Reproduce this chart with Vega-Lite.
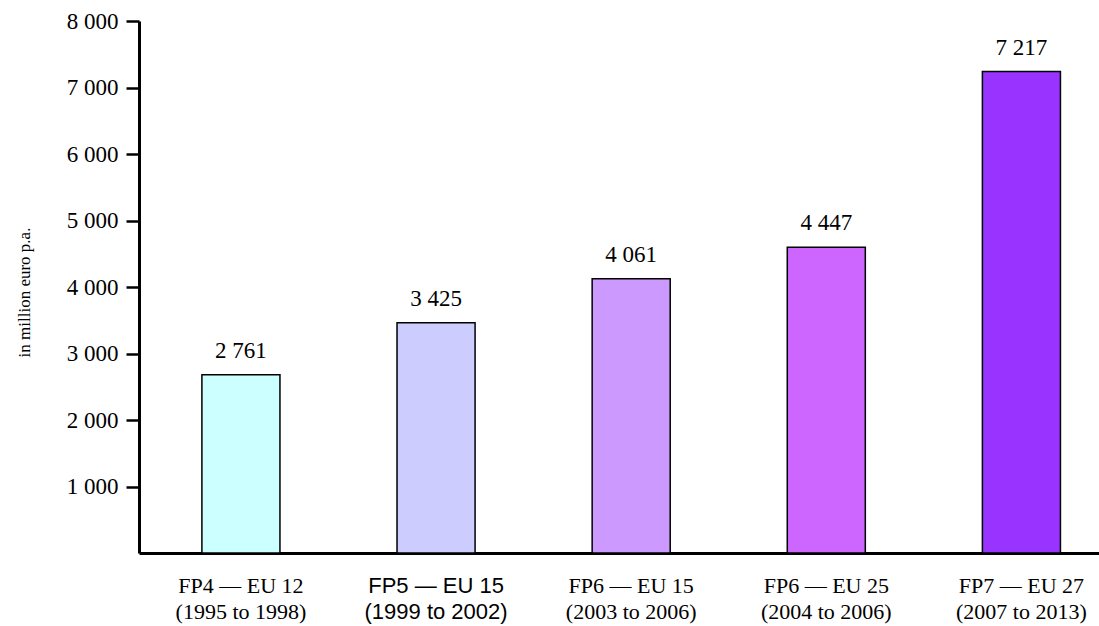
{
  "$schema": "https://vega.github.io/schema/vega-lite/v6.json",
  "autosize": "none",
  "width": 960,
  "height": 532,
  "padding": {"left": 139, "top": 21, "right": 0, "bottom": 73},
  "background": "white",
  "config": {"view": {"stroke": null}},
  "data": {"values": [
    {"programme": "FP4 — EU 12|(1995 to 1998)", "value": 2682, "label": "2 761", "color": "#CCFFFF"},
    {"programme": "FP5 — EU 15|(1999 to 2002)", "value": 3462, "label": "3 425", "color": "#CCCCFF"},
    {"programme": "FP6 — EU 15|(2003 to 2006)", "value": 4123, "label": "4 061", "color": "#CC99FF"},
    {"programme": "FP6 — EU 25|(2004 to 2006)", "value": 4598, "label": "4 447", "color": "#CC66FF"},
    {"programme": "FP7 — EU 27|(2007 to 2013)", "value": 7240, "label": "7 217", "color": "#9933FF"}
  ]},
  "encoding": {
    "x": {
      "field": "programme", "type": "nominal", "sort": null,
      "scale": {"paddingInner": 0.6, "paddingOuter": 0.26, "align": 0.62},
      "axis": {
        "title": null, "labelAngle": 0, "ticks": false,
        "domainColor": "black", "domainWidth": 3,
        "labelExpr": "split(datum.value, '|')",
        "labelFont": {"condition": {"test": "indexof(datum.value, 'FP5') == 0", "value": "Liberation Sans"}, "value": "Liberation Serif"},
        "labelFontSize": 22, "labelLineHeight": 26, "labelColor": "black",
        "labelPadding": 22, "labelBaseline": "top"
      }
    },
    "y": {
      "field": "value", "type": "quantitative",
      "scale": {"domain": [0, 8000], "nice": false},
      "axis": {
        "title": "in million euro p.a.", "values": [1000, 2000, 3000, 4000, 5000, 6000, 7000, 8000],
        "labelExpr": "replace(format(datum.value, ','), ',', ' ')",
        "grid": false, "domainColor": "black", "domainWidth": 3,
        "tickColor": "black", "tickWidth": 2.5, "tickSize": 13,
        "labelFont": "Liberation Serif", "labelFontSize": 23, "labelColor": "black", "labelPadding": 8,
        "titleFont": "Liberation Serif", "titleFontSize": 17, "titleFontWeight": "normal", "titleColor": "black",
        "titleX": -115, "titleY": 271, "titleAngle": -90, "titleAlign": "center", "titleBaseline": "middle"
      }
    }
  },
  "layer": [
    {
      "mark": {"type": "bar", "stroke": "black", "strokeWidth": 1.5},
      "encoding": {"color": {"field": "color", "type": "nominal", "scale": null, "legend": null}}
    },
    {
      "mark": {"type": "text", "font": "Liberation Serif", "fontSize": 23, "color": "black", "baseline": "middle", "dy": -24},
      "encoding": {"text": {"field": "label"}}
    }
  ]
}
